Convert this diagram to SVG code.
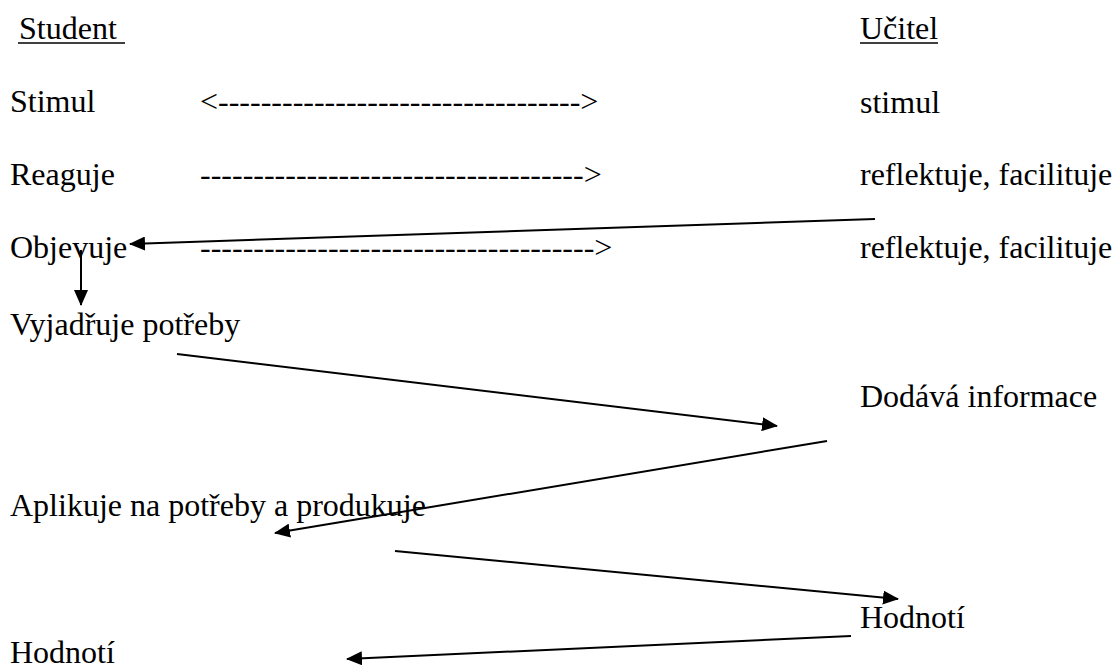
<svg xmlns="http://www.w3.org/2000/svg" width="1114" height="666" viewBox="0 0 1114 666">
<style>
text{font-family:"Liberation Serif","Times New Roman",serif;font-size:32px;fill:#000}
.ln{stroke:#000;stroke-width:2;fill:none}
.ul{stroke:#000;stroke-width:1.6}
</style>
<defs>
<marker id="ah" markerUnits="userSpaceOnUse" markerWidth="16" markerHeight="14" refX="15" refY="7" orient="auto" viewBox="0 0 16 14">
<path d="M0,0 L16,7 L0,14 z" fill="#000"/>
</marker>
</defs>
<rect width="1114" height="666" fill="#fff"/>
<g id="student-head"><text x="19" y="39" xml:space="preserve">Student </text><line class="ul" x1="18" y1="43" x2="125" y2="43"/></g>
<g id="ucitel-head"><text x="860" y="39">Učitel</text><line class="ul" x1="860" y1="43" x2="938" y2="43"/></g>
<g id="s-stimul"><text x="10" y="112">Stimul</text></g>
<g id="s-reaguje"><text x="10" y="185">Reaguje</text></g>
<g id="s-objevuje"><text x="10" y="258">Objevuje</text></g>
<g id="s-vyjadruje"><text x="10" y="335">Vyjadřuje potřeby</text></g>
<g id="s-aplikuje"><text x="10" y="516">Aplikuje na potřeby a produkuje</text></g>
<g id="s-hodnoti"><text x="10" y="663">Hodnotí</text></g>
<g id="u-stimul"><text x="860" y="113">stimul</text></g>
<g id="u-reflektuje1"><text x="860" y="185">reflektuje, facilituje</text></g>
<g id="u-reflektuje2"><text x="860" y="258">reflektuje, facilituje</text></g>
<g id="u-dodava"><text x="860" y="407">Dodává informace</text></g>
<g id="u-hodnoti"><text x="860" y="628">Hodnotí</text></g>
<g id="connectors">
<text x="200" y="112">&lt;----------------------------------&gt;</text>
<text x="200" y="185">------------------------------------&gt;</text>
<text x="200" y="258">-------------------------------------&gt;</text>
<line class="ln" x1="875" y1="219" x2="130" y2="244" marker-end="url(#ah)"/>
<line class="ln" x1="81" y1="250" x2="81" y2="305" marker-end="url(#ah)"/>
<line class="ln" x1="177" y1="354" x2="777" y2="426" marker-end="url(#ah)"/>
<line class="ln" x1="827" y1="441" x2="275" y2="533" marker-end="url(#ah)"/>
<line class="ln" x1="395" y1="551" x2="898" y2="599" marker-end="url(#ah)"/>
<line class="ln" x1="851" y1="636" x2="347" y2="659" marker-end="url(#ah)"/>
</g>
</svg>
